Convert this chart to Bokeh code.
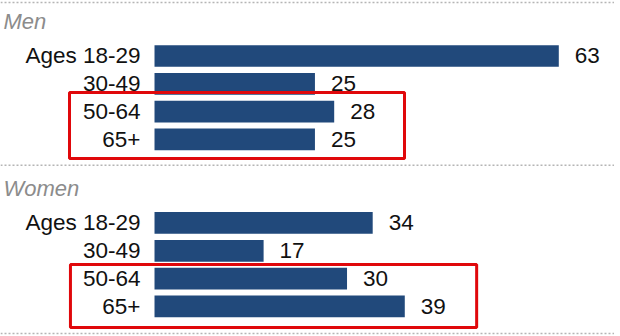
from bokeh.plotting import figure
from bokeh.models import Range1d, Span, Label, ColumnDataSource
from bokeh.core.properties import value
from bokeh.embed import file_html
from bokeh.resources import INLINE

# ---- data ----
groups = ["Men", "Women"]
age_labels = ["Ages 18-29", "30-49", "50-64", "65+"]
men_values = [63, 25, 28, 25]
women_values = [34, 17, 30, 39]
highlight_ages = ["50-64", "65+"]

# ---- layout constants ----
GROUP_STRIDE = 6          # rows per group incl. title/gap rows
BAR_COLOR = "#21497b"
FONT = "Liberation Sans"
SIZE = "22.5px"

p = figure(width=614, height=336, output_backend="svg", toolbar_location=None,
           x_range=Range1d(-24.0, 71.68), y_range=Range1d(10.08, -1.994),
           min_border=0, outline_line_color=None)
p.axis.visible = False
p.grid.visible = False
p.background_fill_color = "white"
p.border_fill_color = "white"

series = [men_values, women_values]
for g, (name, vals) in enumerate(zip(groups, series)):
    base = g * GROUP_STRIDE
    rows = [base + i for i in range(len(age_labels))]
    src = ColumnDataSource(dict(y=rows, v=vals, lab=age_labels,
                                vt=[str(v) for v in vals], zero=[0] * len(vals)))
    p.hbar(y="y", left=0, right="v", height=0.78, source=src,
           fill_color=BAR_COLOR, line_color=None)
    p.text(x="zero", y="y", text="lab", source=src, x_offset=-14,
           text_align="right", text_baseline="middle",
           text_font=value(FONT), text_font_size=SIZE, text_color="#111111")
    p.text(x="v", y="y", text="vt", source=src, x_offset=16,
           text_align="left", text_baseline="middle",
           text_font=value(FONT), text_font_size=SIZE, text_color="#111111")
    p.add_layout(Label(x=3, x_units="screen", y=base - 1.25, text=name,
                       text_font=FONT, text_font_size="22px",
                       text_font_style="italic", text_color="#8c8c8c",
                       text_baseline="alphabetic"))

# dotted separators
for loc in [-1.92, 3.93, 9.97]:
    p.add_layout(Span(location=loc, dimension="width", line_color="#b5b5b5",
                      line_width=1.5, line_dash="2 2"))

# red highlight boxes (around 50-64 and 65+ rows)
box_left = [-13.25, -13.1]
box_right = [38.96, 50.2]
box_top = [1.31, 7.49]
box_bottom = [3.68, 9.76]
p.quad(left=box_left, right=box_right, top=box_top, bottom=box_bottom,
       fill_color=None, line_color="#e0080b", line_width=3)

open("out.html", "w").write(file_html(p, INLINE))
